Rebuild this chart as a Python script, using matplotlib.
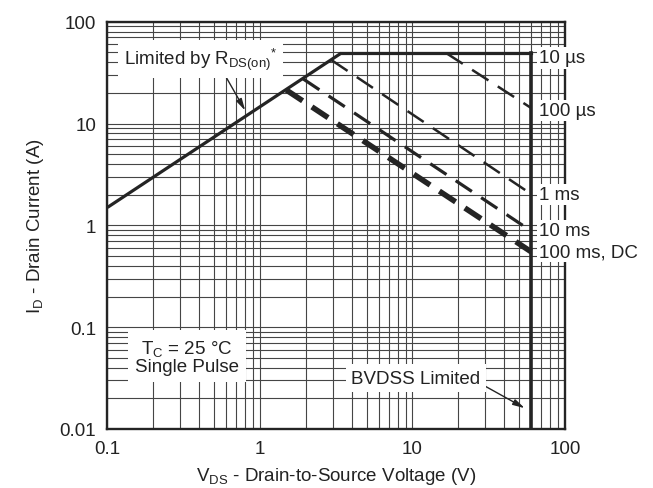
import numpy as np
import matplotlib
matplotlib.use("Agg")
import matplotlib.pyplot as plt
from matplotlib.ticker import LogLocator, FixedLocator, NullFormatter

plt.rcParams["font.family"] = ["Liberation Sans", "DejaVu Sans"]
plt.rcParams["mathtext.fontset"] = "custom"
plt.rcParams["mathtext.rm"] = "Liberation Sans"
plt.rcParams["mathtext.it"] = "Liberation Sans:italic"
plt.rcParams["lines.scale_dashes"] = False

# ─── DATA ────────────────────────────────────────────────────────────────────
# R_DS(on) limit line (V, A)
rds_vds = [0.1, 3.4]
rds_id = [1.5, 49]

I_MAX = 49.0        # package / current limit
BVDSS = 60.0        # breakdown voltage

# constant-power pulse lines: start point on the limit, current at BVDSS
pulse_labels = ["100 µs", "1 ms", "10 ms", "100 ms, DC"]
pulse_v0 = [16.7, 2.94, 1.92, 1.49]
pulse_i0 = [49.0, 42.0, 27.4, 21.3]
pulse_i1 = [14.2, 2.03, 0.88, 0.55]
pulse_lw = [1.8, 1.8, 2.3, 4.0]

label_text = ["10 µs", "100 µs", "1 ms", "10 ms", "100 ms, DC"]
label_y = [44.0, 13.3, 2.02, 0.88, 0.55]

x_ticks = [0.1, 1, 10, 100]
x_ticklabels = ["0.1", "1", "10", "100"]
y_ticks = [0.01, 0.1, 1, 10, 100]
y_ticklabels = ["0.01", "0.1", "1", "10", "100"]
# ─────────────────────────────────────────────────────────────────────────────

LINE = "#242424"
GRID = "#454545"
FS = 13.5

fig = plt.figure(figsize=(6.53, 4.89), dpi=100)
ax = fig.add_axes([0.1646, 0.1207, 0.7006, 0.8329])
ax.set_xscale("log")
ax.set_yscale("log")
ax.set_xlim(0.1, 100)
ax.set_ylim(0.01, 100)

# full 1..9 grid on both axes
ax.xaxis.set_minor_locator(LogLocator(base=10, subs=np.arange(2, 10)))
ax.yaxis.set_minor_locator(LogLocator(base=10, subs=np.arange(2, 10)))
ax.xaxis.set_minor_formatter(NullFormatter())
ax.yaxis.set_minor_formatter(NullFormatter())
ax.xaxis.set_major_locator(FixedLocator(x_ticks))
ax.yaxis.set_major_locator(FixedLocator(y_ticks))
ax.set_xticklabels(x_ticklabels)
ax.set_yticklabels(y_ticklabels)
ax.grid(True, which="both", color=GRID, lw=0.8)
ax.set_axisbelow(True)
ax.tick_params(which="both", length=0, labelsize=FS, colors="#222222", pad=8)
for s in ax.spines.values():
    s.set_color(LINE)
    s.set_linewidth(1.7)

# boundary: R_DS(on) ramp, current limit, BVDSS
ax.plot(rds_vds, rds_id, color=LINE, lw=2.3, solid_capstyle="butt")
ax.plot([rds_vds[-1], BVDSS], [I_MAX, I_MAX], color=LINE, lw=2.3)
ax.plot([BVDSS, BVDSS], [0.01, I_MAX], color=LINE, lw=2.6)

for v0, i0, i1, lw in zip(pulse_v0, pulse_i0, pulse_i1, pulse_lw):
    ax.plot([v0, BVDSS], [i0, i1], color=LINE, lw=lw,
            dashes=(14, 8), dash_capstyle="butt")

box = dict(facecolor="white", edgecolor="none", pad=1.5)
for txt, y in zip(label_text, label_y):
    ax.text(68, y, txt, fontsize=FS, ha="left", va="center",
            color="#222222", bbox=box, zorder=5)

ax.text(0.128, 43, r"Limited by R$_{\mathregular{DS(on)}}$$^{\mathregular{*}}$",
        fontsize=FS, ha="left", va="center", color="#222222",
        bbox=dict(facecolor="white", edgecolor="none", pad=4), zorder=5)
ax.annotate("", xy=(0.80, 13.4), xytext=(0.60, 28.5),
            arrowprops=dict(arrowstyle="-|>,head_length=0.7,head_width=0.18",
                            color=LINE, lw=1.0, shrinkA=0, shrinkB=0))

ax.text(0.332, 0.052, "T$_{\\mathregular{C}}$ = 25 °C\nSingle Pulse",
        fontsize=FS, ha="center", va="center", color="#222222",
        linespacing=1.0,
        bbox=dict(facecolor="white", edgecolor="none", pad=5), zorder=5)

ax.text(10.5, 0.0316, "BVDSS Limited", fontsize=FS, ha="center", va="center",
        color="#222222",
        bbox=dict(facecolor="white", edgecolor="none", pad=4), zorder=5)
ax.annotate("", xy=(54.5, 0.016), xytext=(28.3, 0.0276),
            arrowprops=dict(arrowstyle="-|>,head_length=0.7,head_width=0.18",
                            color=LINE, lw=1.0, shrinkA=0, shrinkB=0))

ax.set_xlabel("V$_{\\mathregular{DS}}$ - Drain-to-Source Voltage (V)",
              fontsize=FS, color="#222222", labelpad=6)
ax.set_ylabel("I$_{\\mathregular{D}}$ - Drain Current (A)",
              fontsize=FS, color="#222222", labelpad=10)

fig.savefig("out.png", dpi=100, facecolor="white")
